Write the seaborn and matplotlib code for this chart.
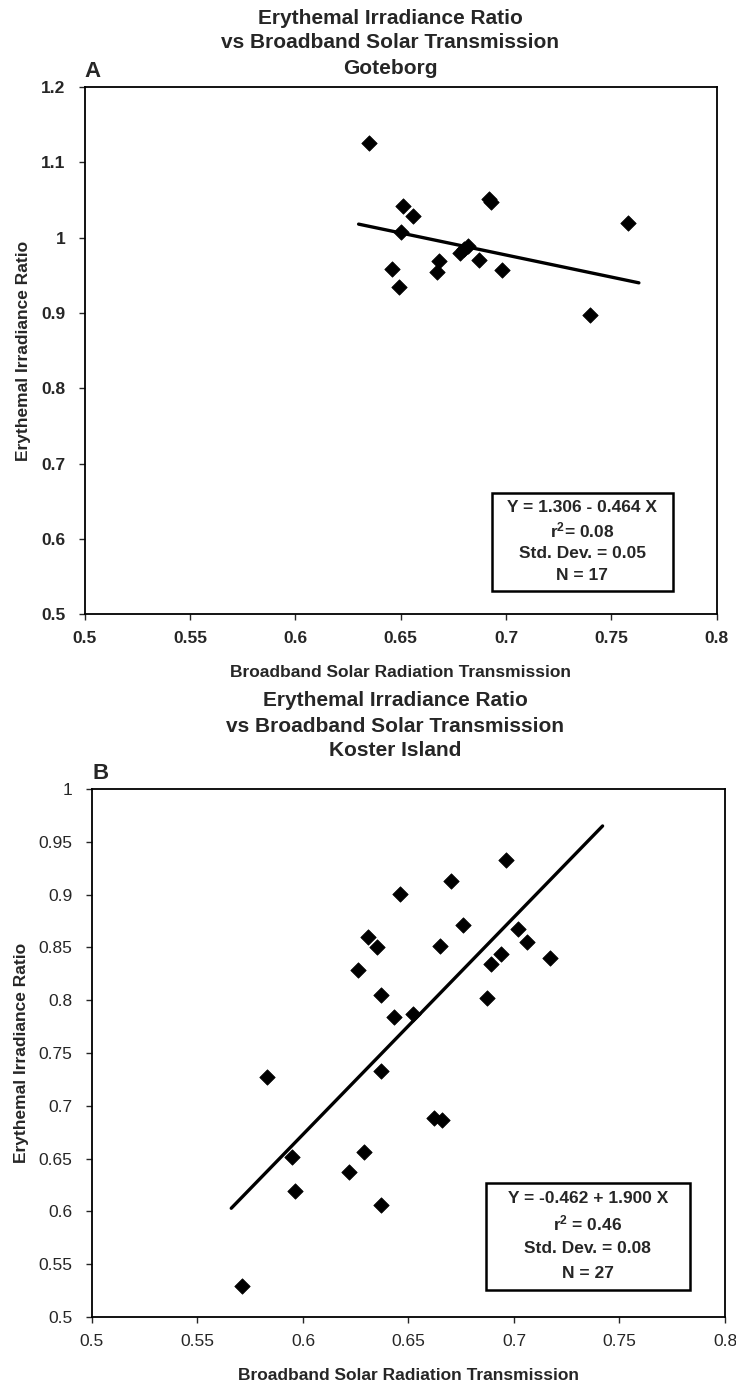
import matplotlib
matplotlib.use("Agg")
import matplotlib.pyplot as plt
import matplotlib.ticker as mticker
from matplotlib.patches import Rectangle
import pandas as pd
import seaborn as sns

# Panel A - Goteborg
goteborg_transmission = [0.635, 0.651, 0.656, 0.650, 0.646, 0.649, 0.668, 0.667, 0.678,
                         0.682, 0.687, 0.693, 0.692, 0.698, 0.740, 0.758, 0.680]
goteborg_ratio = [1.126, 1.042, 1.029, 1.008, 0.958, 0.935, 0.969, 0.954, 0.980,
                  0.989, 0.970, 1.048, 1.051, 0.957, 0.897, 1.019, 0.985]
goteborg_fit_x = [0.630, 0.763]
goteborg_fit_y = [1.018, 0.940]
goteborg_stats = ["Y = 1.306 - 0.464 X", "r$^2$= 0.08", "Std. Dev. = 0.05", "N = 17"]

# Panel B - Koster Island
koster_transmission = [0.571, 0.583, 0.595, 0.596, 0.622, 0.629, 0.637, 0.637, 0.626,
                       0.631, 0.635, 0.637, 0.643, 0.646, 0.652, 0.662, 0.666, 0.665,
                       0.670, 0.676, 0.687, 0.689, 0.694, 0.696, 0.702, 0.706, 0.717]
koster_ratio = [0.529, 0.727, 0.652, 0.619, 0.637, 0.656, 0.606, 0.733, 0.829,
                0.860, 0.850, 0.805, 0.784, 0.901, 0.787, 0.688, 0.687, 0.851,
                0.913, 0.871, 0.802, 0.834, 0.844, 0.933, 0.867, 0.855, 0.840]
koster_fit_x = [0.566, 0.742]
koster_fit_y = [0.603, 0.965]
koster_stats = ["Y = -0.462 + 1.900 X", "r$^2$ = 0.46", "Std. Dev. = 0.08", "N = 27"]

x_ticks = [0.5, 0.55, 0.6, 0.65, 0.7, 0.75, 0.8]
y_ticks_a = [0.5, 0.6, 0.7, 0.8, 0.9, 1.0, 1.1, 1.2]
y_ticks_b = [0.5, 0.55, 0.6, 0.65, 0.7, 0.75, 0.8, 0.85, 0.9, 0.95, 1.0]

sns.set_style("ticks")
plt.rcParams["font.family"] = ["Liberation Sans", "DejaVu Sans"]
plt.rcParams["font.weight"] = "bold"
plt.rcParams["mathtext.default"] = "regular"

fig = plt.figure(figsize=(7.36, 13.83), dpi=100)


def draw_panel(rect, x, y, fit_x, fit_y, stats, yticks, box, letter, tick_weight):
    ax = fig.add_axes(rect)
    df = pd.DataFrame({"x": x, "y": y})
    sns.scatterplot(data=df, x="x", y="y", marker="D", s=62, color="black",
                    edgecolor="black", linewidth=0.5, ax=ax, zorder=3)
    sns.lineplot(x=fit_x, y=fit_y, color="black", linewidth=2.4, ax=ax)

    ax.set_xlim(x_ticks[0], x_ticks[-1])
    ax.set_ylim(yticks[0], yticks[-1])
    ax.set_xticks(x_ticks)
    ax.set_yticks(yticks)
    fmt = mticker.FuncFormatter(lambda v, p: "%g" % round(v, 3))
    ax.xaxis.set_major_formatter(fmt)
    ax.yaxis.set_major_formatter(fmt)
    ax.tick_params(direction="out", length=4, width=1, labelsize=12.5)
    ax.tick_params(axis="x", pad=8)
    ax.tick_params(axis="y", pad=10)
    for lbl in ax.get_xticklabels() + ax.get_yticklabels():
        lbl.set_fontweight(tick_weight)
    for sp in ax.spines.values():
        sp.set_visible(True)
        sp.set_linewidth(1.3)
        sp.set_color("black")

    ax.set_xlabel("Broadband Solar Radiation Transmission", fontsize=12.5,
                  fontweight="bold", labelpad=14)
    ax.set_ylabel("Erythemal Irradiance Ratio", fontsize=12.5, fontweight="bold",
                  labelpad=7)

    # stats box
    bx, by, bw, bh = box
    ax.add_patch(Rectangle((bx, by), bw, bh, transform=ax.transAxes,
                           facecolor="white", edgecolor="black", linewidth=1.8,
                           zorder=4))
    for i, line in enumerate(stats):
        ax.text(bx + bw / 2, by + bh * (0.85 - i * 0.232), line,
                transform=ax.transAxes, ha="center", va="center",
                fontsize=12.5, fontweight="bold", zorder=5)

    ax.text(0.0, 1.01, letter, transform=ax.transAxes, ha="left", va="bottom",
            fontsize=16, fontweight="bold")
    return ax


draw_panel([0.115, 0.556, 0.859, 0.381], goteborg_transmission, goteborg_ratio,
           goteborg_fit_x, goteborg_fit_y, goteborg_stats, y_ticks_a,
           (0.644, 0.044, 0.286, 0.186), "A", "bold")
draw_panel([0.125, 0.0477, 0.860, 0.3818], koster_transmission, koster_ratio,
           koster_fit_x, koster_fit_y, koster_stats, y_ticks_b,
           (0.622, 0.051, 0.323, 0.203), "B", "normal")

fig.text(0.53, 1 - 43 / 1383,
         "Erythemal Irradiance Ratio\nvs Broadband Solar Transmission\nGoteborg",
         ha="center", va="center", fontsize=15, fontweight="bold", linespacing=1.4)
fig.text(0.537, 1 - 726 / 1383,
         "Erythemal Irradiance Ratio\nvs Broadband Solar Transmission\nKoster Island",
         ha="center", va="center", fontsize=15, fontweight="bold", linespacing=1.4)

fig.savefig("out.png", dpi=100)
